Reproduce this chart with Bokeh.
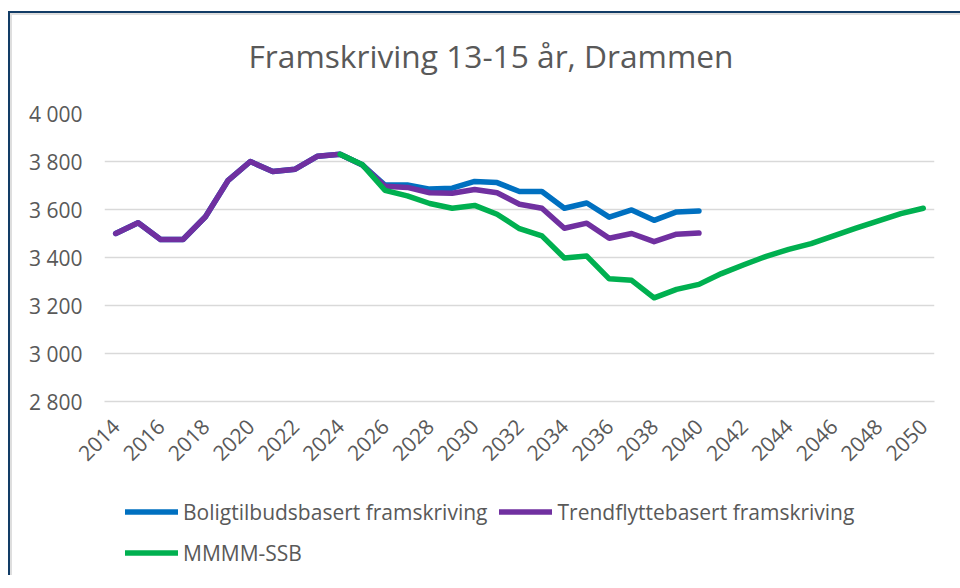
from bokeh.plotting import figure
from bokeh.models import Range1d, FixedTicker, Legend, LegendItem, Label
from bokeh.layouts import column
from bokeh.embed import file_html
from bokeh.resources import INLINE
from math import pi

nan = float("nan")

years = list(range(2014, 2051))

boligtilbud = [3500, 3545, 3475, 3475, 3570, 3720, 3800, 3758, 3768, 3822,
               3830, 3785, 3702, 3702, 3685, 3689, 3717, 3712, 3675, 3675,
               3605, 3627, 3568, 3598, 3555, 3590, 3594,
               nan, nan, nan, nan, nan, nan, nan, nan, nan, nan]

trendflytte = [3500, 3545, 3475, 3475, 3570, 3720, 3800, 3758, 3768, 3822,
               3830, 3785, 3697, 3692, 3670, 3668, 3683, 3670, 3622, 3605,
               3522, 3543, 3480, 3500, 3466, 3497, 3502,
               nan, nan, nan, nan, nan, nan, nan, nan, nan, nan]

mmmm_ssb = [nan, nan, nan, nan, nan, nan, nan, nan, nan, nan,
            3830, 3786, 3680, 3657, 3625, 3605, 3617, 3580, 3520, 3490,
            3398, 3406, 3311, 3305, 3232, 3267, 3288, 3333, 3370, 3405,
            3434, 3458, 3490, 3522, 3553, 3583, 3605]

title_text = "Framskriving 13-15 år, Drammen"
series_labels = ["Boligtilbudsbasert framskriving",
                 "Trendflyttebasert framskriving",
                 "MMMM-SSB"]
series_colors = ["#0070C0", "#7030A0", "#00B050"]
series_values = [boligtilbud, trendflytte, mmmm_ssb]

x_ticks = list(range(2014, 2051, 2))
y_ticks = [2800, 3000, 3200, 3400, 3600, 3800, 4000]
y_tick_labels = ["2 800", "3 000", "3 200", "3 400", "3 600", "3 800", "4 000"]

FONT = "Open Sans"
TXT = "#595959"
LW = 5.5
W = 940


def blank(height, xr, yr):
    f = figure(width=W, height=height, output_backend="svg", toolbar_location=None,
               x_range=xr, y_range=yr, title=None,
               x_axis_location=None, y_axis_location=None,
               min_border_left=0, min_border_right=0, min_border_top=0,
               min_border_bottom=0)
    f.grid.visible = False
    f.outline_line_color = None
    f.border_fill_color = "white"
    f.background_fill_color = "white"
    return f


# ---- title strip (page pixels 15..83) ----
tf = blank(68, Range1d(104, 934), Range1d(83, 15))
tf.add_layout(Label(x=248, y=55, text=title_text, text_align="left",
                    text_baseline="middle", text_font=FONT, text_font_size="31.7px",
                    text_color=TXT))

# ---- main chart ----
p = figure(width=W, height=397, output_backend="svg", toolbar_location=None,
           x_range=Range1d(2013.5, 2050.5), y_range=Range1d(2800, 4000),
           title=None,
           min_border_left=92, min_border_right=18, min_border_top=30,
           min_border_bottom=79)

p.outline_line_color = None
p.background_fill_color = "white"
p.border_fill_color = "white"

p.xgrid.visible = False
p.ygrid.ticker = FixedTicker(ticks=y_ticks)
p.ygrid.grid_line_color = "#d9d9d9"
p.ygrid.grid_line_width = 1.5

p.yaxis.ticker = FixedTicker(ticks=y_ticks)
p.yaxis.major_label_overrides = {t: l for t, l in zip(y_ticks, y_tick_labels)}
p.yaxis.axis_line_color = None
p.yaxis.major_tick_line_color = None
p.yaxis.minor_tick_line_color = None
p.yaxis.major_tick_out = 0
p.yaxis.major_tick_in = 0
p.yaxis.minor_tick_out = 0
p.yaxis.major_label_standoff = 22
p.yaxis.major_label_text_font = FONT
p.yaxis.major_label_text_font_size = "21px"
p.yaxis.major_label_text_color = TXT

p.xaxis.ticker = FixedTicker(ticks=x_ticks)
p.xaxis.major_label_overrides = {t: str(t) for t in x_ticks}
p.xaxis.axis_line_color = "#d9d9d9"
p.xaxis.axis_line_width = 1.5
p.xaxis.major_tick_line_color = None
p.xaxis.minor_tick_line_color = None
p.xaxis.major_tick_out = 0
p.xaxis.major_tick_in = 0
p.xaxis.minor_tick_out = 0
p.xaxis.major_label_orientation = pi / 4
p.xaxis.major_label_standoff = 21
p.xaxis.major_label_text_font = FONT
p.xaxis.major_label_text_font_size = "21px"
p.xaxis.major_label_text_color = TXT

for vals, col in zip(series_values, series_colors):
    p.line(years, vals, line_color=col, line_width=LW,
           line_join="round", line_cap="round")

# ---- legend strip ----
lg = blank(95, Range1d(0, 1), Range1d(0, 1))
items = []
for lab, vals, col in zip(series_labels, series_values, series_colors):
    # same series, outside this strip's visible range; only the key shows
    r = lg.line(years, vals, line_color=col, line_width=LW, line_cap="round")
    items.append(LegendItem(label=lab, renderers=[r]))

legend = Legend(items=items, location=(21, 8), orientation="horizontal", ncols=2,
                glyph_width=53, glyph_height=29, label_height=29,
                label_standoff=5, spacing=12, padding=0, margin=0,
                border_line_color=None, background_fill_alpha=0,
                label_text_font=FONT, label_text_font_size="21px",
                label_text_color=TXT)
lg.add_layout(legend)

layout = column(tf, p, lg, spacing=0)
layout.styles = {"border-left": "2px solid #123c66", "border-top": "2px solid #123c66",
                 "margin-top": "11px", "margin-left": "8px",
                 "padding-left": "2px", "padding-top": "2px", "padding-right": "8px",
                 "box-shadow": "inset 2px 2px 0 0 #dedede"}

open("out.html", "w").write(file_html(layout, INLINE))
